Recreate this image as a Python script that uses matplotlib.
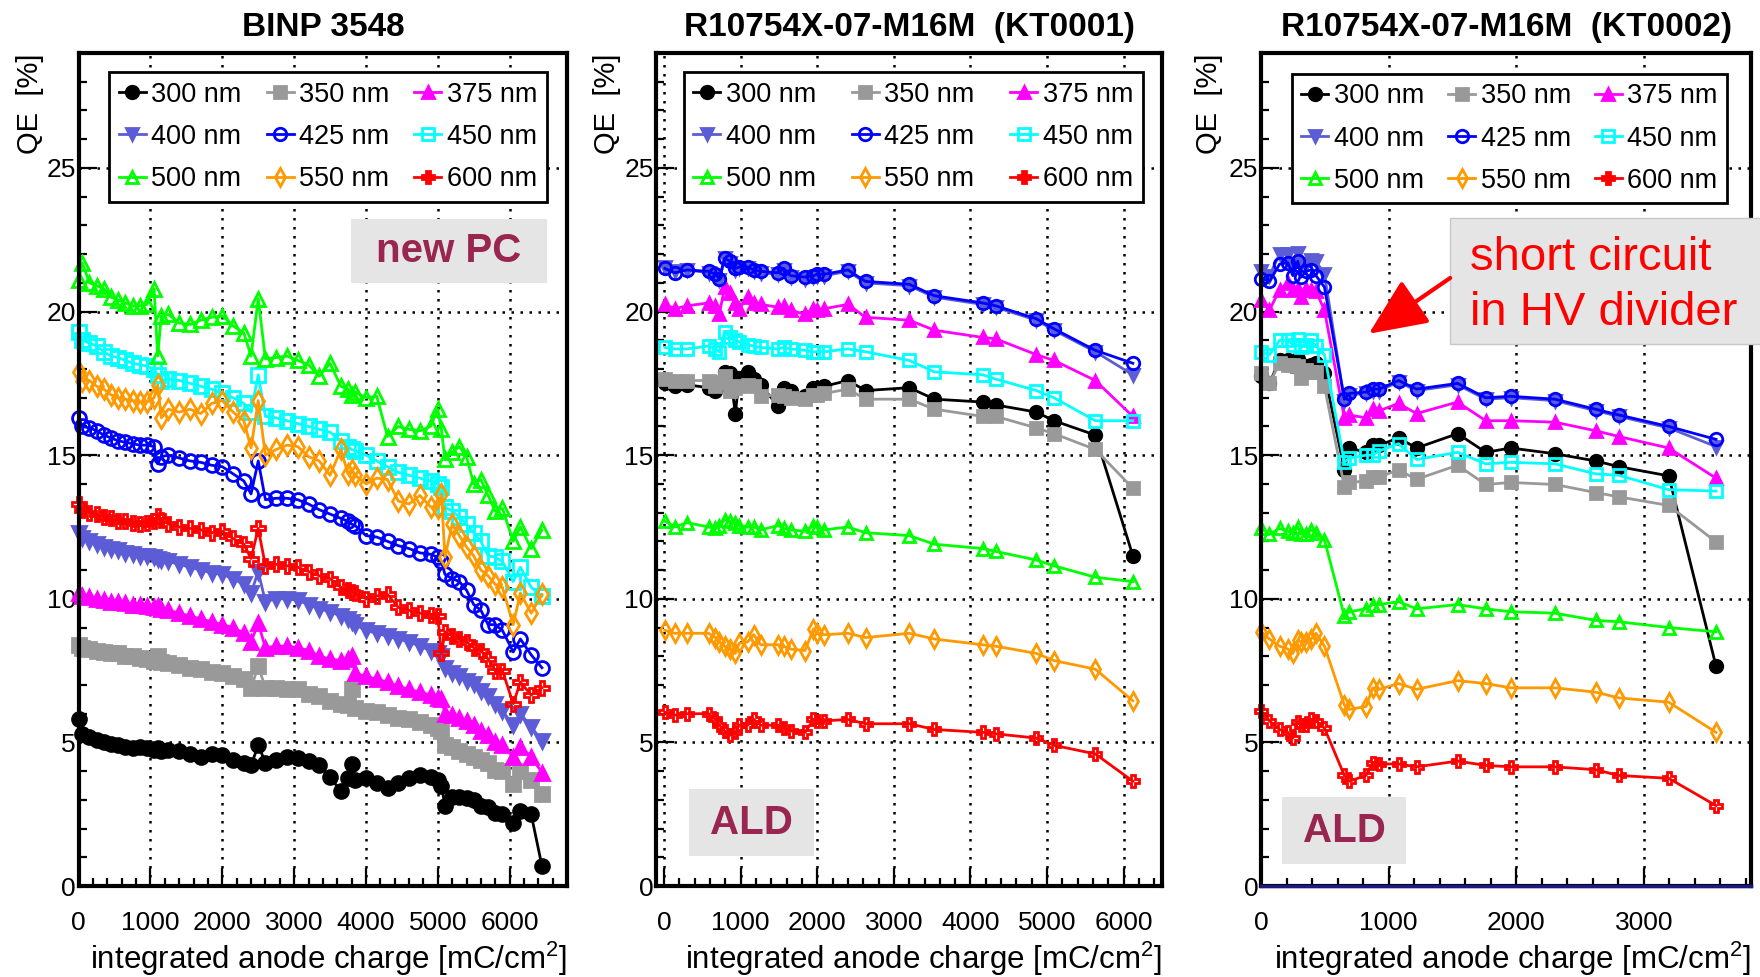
import matplotlib
matplotlib.use("Agg")
import matplotlib.pyplot as plt
from matplotlib.lines import Line2D
from matplotlib.patches import Rectangle
from matplotlib.ticker import MultipleLocator

plt.rcParams['font.family'] = ['Liberation Sans', 'DejaVu Sans']
plt.rcParams['mathtext.default'] = 'regular'

LABELS = ["300 nm", "350 nm", "375 nm", "400 nm", "425 nm",
          "450 nm", "500 nm", "550 nm", "600 nm"]

# ---- panel 1: BINP 3548 (new PC) ----
x_binp = [0, 50, 150, 250, 350, 450, 550, 650, 750, 850, 950, 1050, 1100, 1150,
          1250, 1400, 1550, 1700, 1850, 2000, 2150, 2300, 2400, 2500, 2600, 2750,
          2900, 3050, 3200, 3350, 3500, 3650, 3750, 3800, 3850, 4000, 4150, 4300,
          4450, 4600, 4750, 4900, 5000, 5050, 5100, 5200, 5300, 5400, 5500, 5600,
          5700, 5800, 5900, 6050, 6150, 6300, 6450]
binp_300 = [5.8, 5.3, 5.2, 5.1, 5.0, 4.95, 4.9, 4.85, 4.8, 4.85, 4.8, 4.75, 4.8, 4.7,
            4.75, 4.7, 4.6, 4.5, 4.6, 4.55, 4.4, 4.3, 4.2, 4.9, 4.3, 4.4, 4.5, 4.45,
            4.35, 4.2, 3.8, 3.3, 3.75, 4.25, 3.7, 3.75, 3.6, 3.4, 3.6, 3.75, 3.85,
            3.8, 3.7, 3.5, 2.8, 3.1, 3.1, 3.05, 3.0, 2.8, 2.75, 2.55, 2.5, 2.2, 2.6,
            2.5, 0.7]
binp_350 = [8.4, 8.3, 8.25, 8.2, 8.15, 8.1, 8.1, 8.0, 8.0, 7.95, 7.9, 7.85, 8.0, 7.8,
            7.75, 7.7, 7.6, 7.55, 7.45, 7.4, 7.3, 7.2, 6.9, 7.65, 6.9, 6.9, 6.85, 6.85,
            6.7, 6.6, 6.45, 6.35, 6.3, 6.85, 6.2, 6.1, 6.05, 5.95, 5.85, 5.8, 5.7,
            5.6, 5.5, 5.4, 4.9, 4.85, 4.7, 4.6, 4.5, 4.4, 4.3, 4.05, 4.0, 3.55, 4.0,
            3.7, 3.2]
binp_375 = [10.2, 10.1, 10.05, 10.0, 9.95, 9.9, 9.9, 9.85, 9.8, 9.8, 9.75, 9.7, 9.75,
            9.65, 9.6, 9.5, 9.4, 9.3, 9.2, 9.1, 9.0, 8.8, 8.5, 9.15, 8.3, 8.35, 8.35,
            8.3, 8.2, 8.0, 7.9, 7.85, 7.9, 8.0, 7.4, 7.3, 7.2, 7.1, 6.95, 6.85, 6.75,
            6.65, 6.55, 6.5, 6.0, 5.95, 5.85, 5.75, 5.6, 5.4, 5.25, 5.0, 4.9, 4.5,
            4.85, 4.5, 3.95]
binp_400 = [12.3, 12.1, 12.0, 11.9, 11.8, 11.75, 11.7, 11.6, 11.55, 11.5, 11.5, 11.45,
            11.4, 11.35, 11.3, 11.2, 11.1, 11.0, 10.9, 10.85, 10.7, 10.5, 10.2, 10.95,
            9.9, 10.0, 10.0, 9.95, 9.8, 9.65, 9.55, 9.4, 9.3, 9.2, 9.1, 8.9, 8.8, 8.7,
            8.6, 8.5, 8.35, 8.2, 8.1, 8.0, 7.6, 7.4, 7.3, 7.15, 7.05, 6.8, 6.6, 6.35,
            6.1, 5.6, 6.0, 5.55, 5.05]
binp_425 = [16.3, 16.0, 15.95, 15.85, 15.7, 15.6, 15.5, 15.45, 15.4, 15.35, 15.35,
            15.3, 14.7, 14.95, 15.0, 14.9, 14.8, 14.75, 14.65, 14.6, 14.35, 14.1,
            13.65, 14.8, 13.45, 13.5, 13.5, 13.45, 13.3, 13.1, 12.95, 12.8, 12.7, 12.6,
            12.55, 12.2, 12.15, 12.0, 11.85, 11.75, 11.6, 11.55, 11.45, 11.3, 10.85,
            10.7, 10.6, 10.3, 9.8, 9.6, 9.1, 9.1, 8.9, 8.15, 8.6, 8.05, 7.6]
binp_450 = [19.3, 19.0, 18.9, 18.8, 18.6, 18.45, 18.4, 18.3, 18.2, 18.15, 18.1, 18.0,
            17.8, 17.6, 17.65, 17.6, 17.5, 17.4, 17.3, 17.15, 17.0, 16.8, 16.5, 17.8,
            16.35, 16.3, 16.2, 16.1, 16.0, 15.9, 15.8, 15.5, 15.3, 15.2, 15.15, 15.0,
            14.8, 14.6, 14.4, 14.3, 14.2, 14.1, 14.0, 13.9, 13.2, 13.05, 12.85, 12.6,
            12.3, 12.0, 11.5, 11.45, 11.3, 10.6, 11.1, 10.4, 10.1]
binp_500 = [21.1, 21.7, 21.0, 20.9, 20.8, 20.5, 20.4, 20.3, 20.2, 20.2, 20.25, 20.8,
            18.45, 19.85, 19.9, 19.6, 19.55, 19.7, 19.8, 19.85, 19.5, 19.25, 18.45,
            20.45, 18.35, 18.4, 18.45, 18.3, 18.15, 17.75, 18.2, 17.4, 17.3, 17.1,
            17.2, 17.0, 17.05, 15.65, 16.0, 15.9, 15.85, 16.0, 16.6, 15.9, 14.85, 15.1,
            15.3, 14.95, 14.0, 14.15, 13.6, 13.05, 13.15, 12.0, 12.5, 11.75, 12.4]
binp_550 = [17.9, 17.6, 17.6, 17.4, 17.3, 17.1, 17.0, 16.95, 16.9, 16.85, 16.85, 17.0,
            17.45, 16.3, 16.6, 16.5, 16.6, 16.45, 16.8, 16.9, 16.5, 16.2, 15.25, 16.9,
            15.0, 15.2, 15.35, 15.3, 14.95, 14.8, 14.3, 15.2, 14.35, 14.5, 14.3, 14.0,
            14.2, 14.15, 13.4, 13.3, 13.6, 13.2, 13.15, 13.65, 11.45, 12.6, 12.2, 11.8,
            11.5, 11.0, 10.8, 10.5, 10.4, 9.1, 10.2, 9.5, 10.15]
binp_600 = [13.3, 13.1, 13.0, 12.95, 12.85, 12.8, 12.7, 12.7, 12.65, 12.6, 12.65, 12.7,
            12.9, 12.75, 12.6, 12.5, 12.45, 12.4, 12.3, 12.35, 12.1, 11.9, 11.4, 12.45,
            11.15, 11.2, 11.15, 11.1, 10.95, 10.8, 10.7, 10.4, 10.3, 10.25, 10.2, 10.0,
            10.1, 10.15, 9.7, 9.6, 9.5, 9.45, 9.4, 8.1, 8.85, 8.7, 8.6, 8.5, 8.3, 8.2,
            7.9, 7.5, 7.5, 6.35, 7.1, 6.65, 6.9]

# ---- panel 2: R10754X-07-M16M (KT0001) ----
x_kt1 = [10, 140, 300, 580, 670, 720, 790, 860, 930, 980, 1090, 1170, 1260, 1490,
         1560, 1650, 1840, 1950, 2000, 2090, 2400, 2630, 3200, 3530, 4160, 4330,
         4860, 5090, 5630, 6120]
kt1_300 = [17.5, 17.4, 17.45, 17.35, 17.25, 17.45, 17.9, 17.85, 16.45, 17.7, 17.9,
           17.65, 17.45, 16.7, 17.35, 17.25, 17.05, 17.35, 17.35, 17.4, 17.6, 17.25,
           17.35, 16.95, 16.85, 16.75, 16.5, 16.2, 15.7, 11.5]
kt1_350 = [17.65, 17.6, 17.6, 17.6, 17.4, 17.55, 17.75, 17.25, 17.35, 17.4, 17.45,
           17.4, 17.05, 17.1, 17.05, 17.0, 16.95, 17.1, 17.1, 17.15, 17.3, 16.95,
           16.95, 16.6, 16.35, 16.35, 15.95, 15.75, 15.2, 13.85]
kt1_375 = [20.25, 20.1, 20.2, 20.3, 20.2, 19.9, 20.85, 20.65, 20.3, 20.1, 20.5, 20.3,
           20.25, 20.15, 20.2, 20.05, 19.9, 20.1, 20.05, 20.1, 20.25, 19.8, 19.7,
           19.35, 19.1, 19.05, 18.5, 18.3, 17.6, 16.35]
kt1_400 = [21.55, 21.4, 21.45, 21.35, 21.25, 21.1, 21.85, 21.7, 21.45, 21.5, 21.5,
           21.4, 21.35, 21.3, 21.45, 21.2, 21.15, 21.2, 21.25, 21.25, 21.4, 21.0,
           20.9, 20.5, 20.25, 20.15, 19.7, 19.35, 18.6, 17.8]
kt1_425 = [21.5, 21.35, 21.45, 21.4, 21.3, 21.15, 21.85, 21.75, 21.5, 21.55, 21.55,
           21.45, 21.4, 21.35, 21.5, 21.25, 21.2, 21.25, 21.3, 21.3, 21.45, 21.05,
           20.95, 20.55, 20.3, 20.2, 19.75, 19.4, 18.65, 18.2]
kt1_450 = [18.75, 18.7, 18.7, 18.8, 18.7, 18.6, 19.3, 19.1, 19.0, 18.95, 18.85, 18.8,
           18.75, 18.7, 18.75, 18.7, 18.65, 18.6, 18.6, 18.6, 18.7, 18.6, 18.3, 17.9,
           17.8, 17.65, 17.25, 17.0, 16.2, 16.2]
kt1_500 = [12.7, 12.5, 12.65, 12.5, 12.45, 12.55, 12.75, 12.7, 12.65, 12.55, 12.5,
           12.5, 12.4, 12.55, 12.45, 12.4, 12.35, 12.55, 12.5, 12.4, 12.5, 12.3,
           12.2, 11.9, 11.75, 11.65, 11.35, 11.15, 10.75, 10.6]
kt1_550 = [8.9, 8.8, 8.8, 8.8, 8.65, 8.5, 8.35, 8.25, 8.1, 8.45, 8.5, 8.75, 8.4, 8.4,
           8.35, 8.25, 8.2, 8.95, 8.8, 8.75, 8.8, 8.65, 8.8, 8.6, 8.4, 8.35, 8.1,
           7.85, 7.55, 6.45]
kt1_600 = [6.05, 5.95, 6.0, 6.0, 5.8, 5.6, 5.4, 5.25, 5.35, 5.6, 5.6, 5.8, 5.6, 5.6,
           5.5, 5.4, 5.35, 5.8, 5.75, 5.75, 5.8, 5.65, 5.65, 5.45, 5.35, 5.3, 5.15,
           4.9, 4.6, 3.65]

# ---- panel 3: R10754X-07-M16M (KT0002) ----
x_kt2 = [1, 66, 145, 210, 249, 288, 314, 353, 392, 431, 497, 653, 692, 823, 875, 927,
         1078, 1219, 1540, 1761, 1957, 2303, 2622, 2804, 3195, 3566]
kt2_300 = [17.75, 17.5, 18.3, 18.3, 18.1, 18.35, 18.05, 18.1, 18.15, 18.2, 17.85,
           14.5, 15.25, 15.1, 15.35, 15.35, 15.6, 15.25, 15.75, 15.1, 15.25, 15.05,
           14.8, 14.6, 14.28, 7.65]
kt2_350 = [17.85, 17.5, 18.2, 18.15, 18.15, 18.1, 17.7, 17.95, 17.9, 17.9, 17.4,
           13.9, 14.05, 14.1, 14.25, 14.25, 14.48, 14.16, 14.65, 13.98, 14.05, 13.98,
           13.7, 13.55, 13.25, 11.98]
kt2_375 = [20.4, 20.05, 20.75, 21.0, 20.75, 20.8, 20.5, 20.8, 20.75, 20.7, 20.05,
           16.3, 16.4, 16.3, 16.6, 16.55, 16.8, 16.45, 16.85, 16.2, 16.2, 16.15,
           15.85, 15.65, 15.25, 14.2]
kt2_400 = [21.4, 21.25, 22.0, 22.0, 21.6, 22.05, 21.65, 21.65, 21.8, 21.75, 21.3,
           16.9, 17.1, 17.15, 17.25, 17.25, 17.55, 17.25, 17.45, 16.95, 17.0, 16.9,
           16.55, 16.35, 15.95, 15.3]
kt2_425 = [21.15, 21.05, 21.65, 21.7, 21.25, 21.75, 21.2, 21.4, 21.45, 21.25, 20.85,
           16.95, 17.15, 17.2, 17.3, 17.3, 17.6, 17.3, 17.5, 17.0, 17.05, 16.95,
           16.6, 16.4, 16.0, 15.55]
kt2_450 = [18.6, 18.5, 19.0, 19.0, 18.85, 19.05, 18.75, 18.85, 19.0, 18.8, 18.5,
           14.75, 14.9, 15.0, 15.0, 15.15, 15.4, 14.85, 15.1, 14.7, 14.75, 14.7,
           14.35, 14.3, 13.8, 13.75]
kt2_500 = [12.45, 12.25, 12.45, 12.35, 12.3, 12.5, 12.25, 12.25, 12.4, 12.3, 12.05,
           9.4, 9.55, 9.65, 9.8, 9.8, 9.9, 9.65, 9.8, 9.65, 9.55, 9.5, 9.25, 9.2,
           9.0, 8.85]
kt2_550 = [8.85, 8.6, 8.35, 8.25, 8.1, 8.55, 8.5, 8.5, 8.6, 8.8, 8.35, 6.3, 6.15,
           6.25, 6.9, 6.85, 7.05, 6.85, 7.15, 7.05, 6.9, 6.9, 6.75, 6.55, 6.4, 5.35]
kt2_600 = [6.1, 5.75, 5.45, 5.35, 5.15, 5.7, 5.6, 5.6, 5.8, 5.75, 5.5, 3.85, 3.65,
           3.85, 4.3, 4.25, 4.25, 4.15, 4.35, 4.2, 4.15, 4.15, 4.05, 3.85, 3.75, 2.8]

STYLE = {
    "300 nm": dict(color="black", marker="o", mfc="black"),
    "350 nm": dict(color="#999999", marker="s", mfc="#999999"),
    "375 nm": dict(color="#ff00ff", marker="^", mfc="#ff00ff"),
    "400 nm": dict(color="#5c5cd6", marker="v", mfc="#5c5cd6"),
    "425 nm": dict(color="#0000ff", marker="o", mfc="none"),
    "450 nm": dict(color="#00ffff", marker="s", mfc="none"),
    "500 nm": dict(color="#00ff00", marker="^", mfc="none"),
    "550 nm": dict(color="#ff9900", marker="d", mfc="none"),
    "600 nm": dict(color="#ff0000", marker="P", mfc="none"),
}

PANELS = [
    ("BINP 3548", x_binp, [binp_300, binp_350, binp_375, binp_400, binp_425,
                           binp_450, binp_500, binp_550, binp_600], (0, 6800)),
    ("R10754X-07-M16M  (KT0001)", x_kt1, [kt1_300, kt1_350, kt1_375, kt1_400,
                                          kt1_425, kt1_450, kt1_500, kt1_550,
                                          kt1_600], (-100, 6500)),
    ("R10754X-07-M16M  (KT0002)", x_kt2, [kt2_300, kt2_350, kt2_375, kt2_400,
                                          kt2_425, kt2_450, kt2_500, kt2_550,
                                          kt2_600], (0, 3840)),
]

fig = plt.figure(figsize=(17.6, 9.77), dpi=100)
axes_pos = [(0.0447, 0.2775), (0.373, 0.2872), (0.7165, 0.2784)]
legend_box = [(0.063, 0.82, 0.895, 0.157), (0.054, 0.82, 0.908, 0.157),
              (0.063, 0.82, 0.888, 0.155)]
ylab_x = [-0.072, -0.07, -0.078]
bottom, height = 0.0931, 0.8526

# legend proxies (the 600 nm entry is drawn with a filled cross)
legend_handles = []
for lab in LABELS:
    st = STYLE[lab]
    mfc = st["color"] if lab == "600 nm" else st["mfc"]
    legend_handles.append(Line2D([], [], color=st["color"], marker=st["marker"],
                                 mfc=mfc, mec=st["color"], mew=2, ms=9, lw=2))

axes = []
for i, (title, x, series, xlim) in enumerate(PANELS):
    left, width = axes_pos[i]
    ax = fig.add_axes([left, bottom, width, height])
    axes.append(ax)
    ms = 10 if i == 0 else 9
    for lab, y in zip(LABELS, series):
        st = STYLE[lab]
        ax.plot(x, y, color=st["color"], marker=st["marker"], mfc=st["mfc"],
                mec=st["color"], mew=2, ms=ms, lw=2, label=lab,
                clip_on=False, zorder=3)

    ax.set_xlim(*xlim)
    ax.set_ylim(0, 29)
    ax.xaxis.set_major_locator(MultipleLocator(1000))
    ax.xaxis.set_minor_locator(MultipleLocator(200))
    ax.yaxis.set_major_locator(MultipleLocator(5))
    ax.yaxis.set_minor_locator(MultipleLocator(1))
    for s in ax.spines.values():
        s.set_linewidth(3)
        s.set_zorder(5)
    ax.tick_params(which='both', direction='in', top=False, right=False,
                   width=1.6, labelsize=19)
    ax.tick_params(which='major', length=13)
    ax.tick_params(which='minor', length=6)
    ax.tick_params(axis='x', pad=18)
    ax.tick_params(axis='y', pad=2)
    ax.grid(True, which='major', color='black', ls=(0, (1, 2.6)), lw=1.8, zorder=1)
    ax.set_axisbelow(True)

    ax.set_title(title, fontsize=24, fontweight='bold', pad=12)
    ax.set_xlabel("integrated anode charge [mC/cm$^2$]", fontsize=22.5, loc='right',
                  labelpad=3)
    ax.set_ylabel("QE  [%]", fontsize=21, loc='top')
    ax.yaxis.set_label_coords(ylab_x[i], 1.0)

    order = [0, 3, 6, 1, 4, 7, 2, 5, 8]
    leg = ax.legend([legend_handles[k] for k in order], [LABELS[k] for k in order],
                    ncol=3, loc='upper left', bbox_to_anchor=legend_box[i],
                    mode='expand', fontsize=19.5, frameon=True, fancybox=False,
                    edgecolor='black', framealpha=1, borderpad=0.35,
                    labelspacing=0.6, handlelength=1.0, handletextpad=0.2,
                    columnspacing=0.4, borderaxespad=0)
    leg.get_frame().set_linewidth(2)
    leg.set_zorder(6)

# annotation boxes
maroon = '#992650'
ax1, ax2, ax3 = axes
ax1.add_patch(Rectangle((0.558, 0.724), 0.401, 0.077, transform=ax1.transAxes,
                        facecolor='#e5e5e5', edgecolor='none', zorder=4))
ax1.text(0.7585, 0.762, "new PC", transform=ax1.transAxes, fontsize=29,
         fontweight='bold', color=maroon, ha='center', va='center', zorder=5)

ax2.add_patch(Rectangle((0.065, 0.036), 0.246, 0.0805, transform=ax2.transAxes,
                        facecolor='#e5e5e5', edgecolor='none', zorder=4))
ax2.text(0.188, 0.076, "ALD", transform=ax2.transAxes, fontsize=29,
         fontweight='bold', color=maroon, ha='center', va='center', zorder=5)

ax3.add_patch(Rectangle((0.043, 0.026), 0.253, 0.081, transform=ax3.transAxes,
                        facecolor='#e5e5e5', edgecolor='none', zorder=4))
ax3.text(0.1695, 0.066, "ALD", transform=ax3.transAxes, fontsize=29,
         fontweight='bold', color=maroon, ha='center', va='center', zorder=5)

ax3.add_patch(Rectangle((0.386, 0.651), 0.65, 0.151, transform=ax3.transAxes,
                        facecolor='#e5e5e5', edgecolor='#c8c8c8', lw=1,
                        zorder=7, clip_on=False))
ax3.text(0.427, 0.7395, "short circuit", transform=ax3.transAxes, fontsize=34,
         color='#ff0000', ha='left', va='baseline', zorder=8)
ax3.text(0.427, 0.673, "in HV divider", transform=ax3.transAxes, fontsize=34,
         color='#ff0000', ha='left', va='baseline', zorder=8)
ax3.annotate('', xy=(0.22, 0.663), xytext=(0.386, 0.73),
             xycoords='axes fraction', textcoords='axes fraction',
             arrowprops=dict(arrowstyle='-|>,head_length=0.9,head_width=0.4',
                             mutation_scale=40, lw=3, color='#ff0000',
                             shrinkA=0, shrinkB=0), zorder=8)
ax3.axhline(0, color='#1a1a80', lw=2.5, zorder=6, clip_on=False)

fig.savefig("out.png", dpi=100)
